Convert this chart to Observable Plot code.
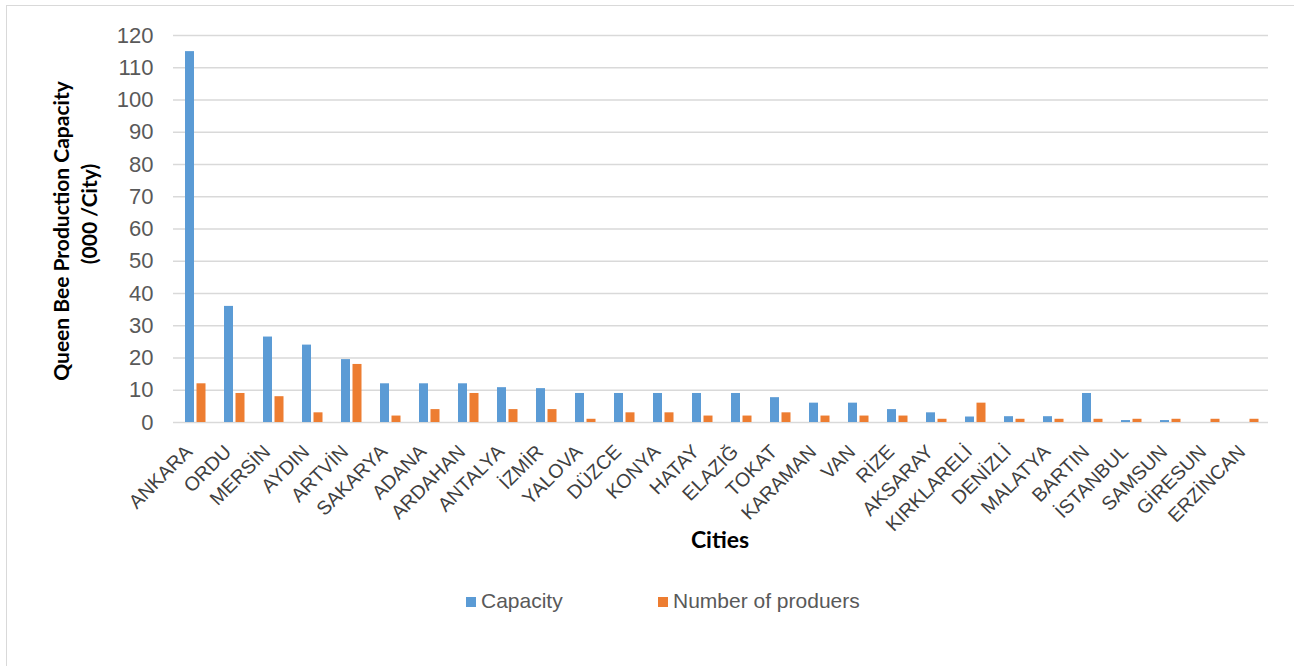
<!DOCTYPE html>
<html><head><meta charset="utf-8">
<script src="https://cdn.jsdelivr.net/npm/d3@7"></script>
<script src="https://cdn.jsdelivr.net/npm/@observablehq/plot@0.6"></script>
<style>
body{margin:0;background:#fff;}
#wrap{position:relative;width:1294px;height:666px;overflow:hidden;font-family:"Liberation Sans",Arial,sans-serif;}
#border{position:absolute;left:6px;top:5px;width:1400px;height:800px;border-left:1.5px solid #d9d9d9;border-top:1.5px solid #d9d9d9;}
#chart{position:absolute;left:0;top:0;}
#overlay{position:absolute;left:0;top:0;}
</style></head><body>
<div id="wrap"><div id="border"></div><div id="chart"></div>
<svg id="overlay" width="1294" height="666"></svg></div>
<script>
const cities = ["ANKARA","ORDU","MERSİN","AYDIN","ARTVİN","SAKARYA","ADANA","ARDAHAN","ANTALYA","İZMİR","YALOVA","DÜZCE","KONYA","HATAY","ELAZIĞ","TOKAT","KARAMAN","VAN","RİZE","AKSARAY","KIRKLARELİ","DENİZLİ","MALATYA","BARTIN","İSTANBUL","SAMSUN","GİRESUN","ERZİNCAN"];
const capacity = [115,36,26.5,24,19.5,12,12,12,10.8,10.5,9,9,9,9,9,7.7,6,6,4,3,1.7,1.8,1.8,9,0.6,0.6,0,0];
const producers = [12,9,8,3,18,2,4,9,4,4,1,3,3,2,2,3,2,2,2,1,6,1,1,1,1,1,1,1];
const yTicks = [0,10,20,30,40,50,60,70,80,90,100,110,120];
const seriesNames = ["Capacity","Number of produers"];
const colors = ["#5B9BD5","#ED7D31"];
const yTitle = ["Queen Bee Production Capacity","(000 /City)"];
const xTitle = "Cities";

const data = cities.map((c,i)=>({city:c, capacity:capacity[i], producers:producers[i]}));
const font = '"Liberation Sans", Arial, sans-serif';
const plot = Plot.plot({
  width:1294, height:562, marginLeft:173, marginRight:26, marginTop:35, marginBottom:140,
  style:{fontFamily:font, background:"transparent", overflow:"visible"},
  x:{domain:cities, padding:0, label:null},
  y:{domain:[0,120], label:null},
  marks:[
    Plot.ruleY(yTicks,{stroke:"#d9d9d9", strokeWidth:1.5}),
    Plot.barY(data,{x:"city", y:"capacity", fill:colors[0], insetLeft:10, insetRight:20}),
    Plot.barY(data,{x:"city", y:"producers", fill:colors[1], insetLeft:21.5, insetRight:8.5}),
    Plot.axisY({ticks:yTicks, tickSize:0, tickPadding:20, fill:"#595959", label:null}),
    Plot.axisX({tickSize:0, tickRotate:-45, tickPadding:26, dx:-6, fill:"#404040", label:null})
  ]
});
document.getElementById("chart").appendChild(plot);
const sp = d3.select(plot);
sp.selectAll('g[aria-label="y-axis tick label"]').attr("font-size", 22).selectAll("text").style("font-size","22px");
sp.selectAll('g[aria-label="x-axis tick label"]').attr("font-size", 19.5).selectAll("text").style("font-size","19.5px");

const ov = d3.select("#overlay");
const tf = 'Lato, "Open Sans", sans-serif';
ov.append("text").text(yTitle[0]).attr("transform","translate(60,231) rotate(-90)")
  .attr("text-anchor","middle").attr("dominant-baseline","central")
  .attr("font-family",tf).attr("font-weight","bold").attr("font-size",21).attr("fill","#000");
ov.append("text").text(yTitle[1]).attr("transform","translate(88,214) rotate(-90)")
  .attr("text-anchor","middle").attr("dominant-baseline","central")
  .attr("font-family",tf).attr("font-weight","bold").attr("font-size",21).attr("fill","#000");
ov.append("text").text(xTitle).attr("x",720).attr("y",548).attr("text-anchor","middle")
  .attr("font-family",tf).attr("font-weight","bold").attr("font-size",23).attr("fill","#000");
const legX = [466,658];
seriesNames.forEach((s,i)=>{
  ov.append("rect").attr("x",legX[i]).attr("y",597).attr("width",10).attr("height",10).attr("fill",colors[i]);
  ov.append("text").text(s).attr("x",legX[i]+15).attr("y",608).attr("font-family",font)
    .attr("font-size",21).attr("fill","#595959");
});
</script>
</body></html>
